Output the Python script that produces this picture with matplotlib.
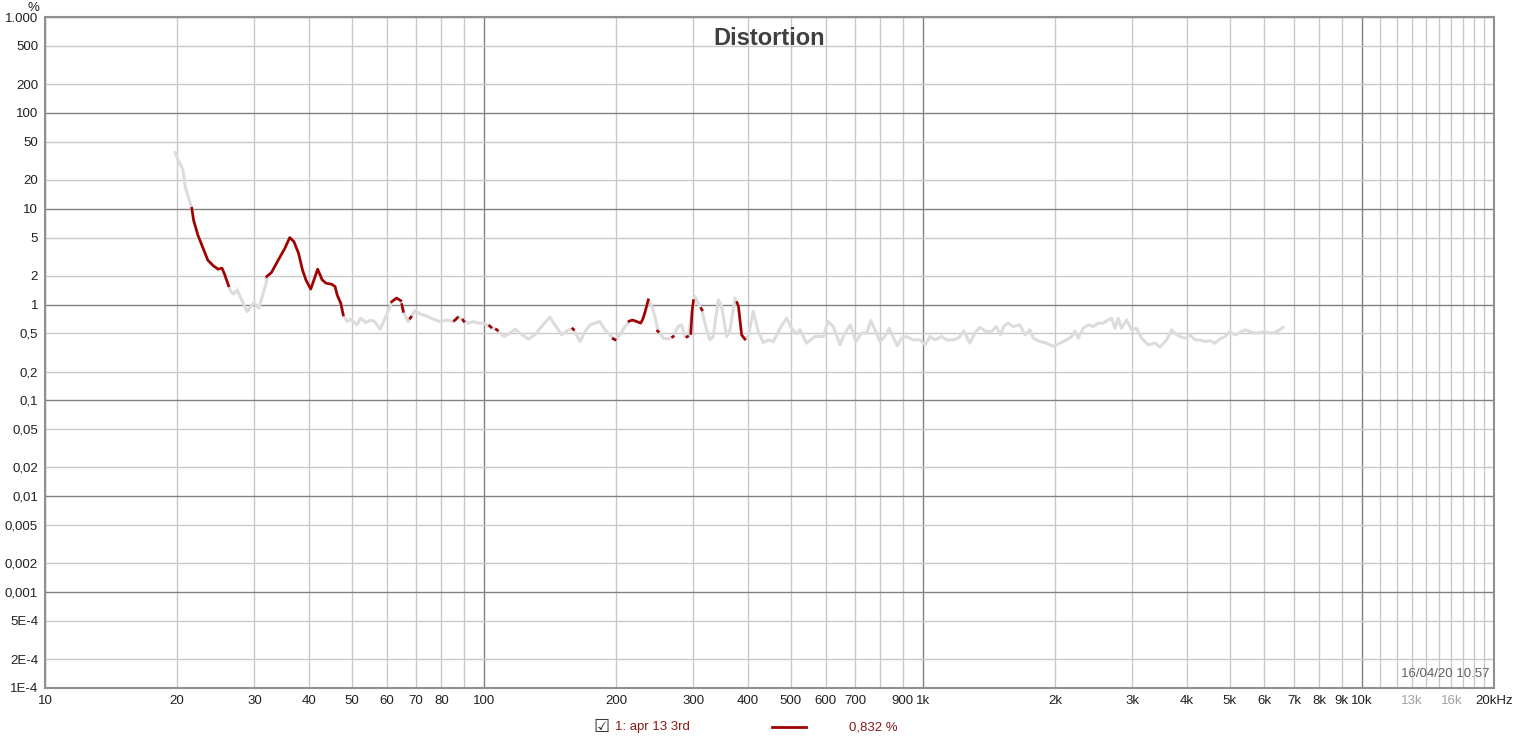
import numpy as np
import matplotlib
matplotlib.use("Agg")
import matplotlib.pyplot as plt

plt.rcParams['font.family'] = ['Liberation Sans', 'DejaVu Sans']

# full distortion curve (grey), Hz / %
freq = [19.8, 20.1, 20.6, 20.9, 21.6, 21.8, 22.3, 22.9, 23.5, 24.2, 24.8, 25.3, 25.6, 26.2,
        26.5, 26.9, 27.4, 28.0, 28.9, 29.9, 30.7, 31.9, 32.0, 32.8, 34.0, 35.2, 36.1, 36.9,
        37.8, 38.6, 39.3, 40.3, 41.0, 41.8, 42.8, 43.7, 45.0, 45.8, 46.3, 47.2, 47.8, 48.8,
        49.7, 51.3, 52.4, 53.8, 55.2, 56.4, 58.0, 60.0, 61.6, 63.2, 64.6, 65.5, 67.2, 68.4,
        69.7, 71.5, 74.1, 76.6, 79.4, 82.2, 85.1, 87.4, 89.7, 92.1, 94.6, 97.1, 99.6, 103.2,
        106.9, 111.1, 114.6, 117.7, 120.8, 126.2, 130.6, 135.3, 141.3, 145.1, 150.3, 155.6,
        159.8, 165.5, 169.9, 174.4, 179.1, 183.8, 188.6, 193.6, 198.8, 204, 209.5, 215.8,
        222.7, 227.5, 232.7, 236.8, 241, 245.2, 249.5, 256.2, 263, 269.8, 277.1, 281.9, 287.1,
        292.1, 297.2, 302.5, 307.6, 313.2, 321.5, 327.2, 332.9, 341.8, 347.9, 357.3, 363.4,
        373.1, 379.7, 386.4, 393, 400, 410.8, 421.7, 432.8, 444.5, 456.3, 472.6, 489.3, 502,
        515, 525, 543, 568, 593, 608, 625, 647, 664, 684, 703, 725, 744, 761, 778, 798, 819,
        838, 855, 874, 894, 918, 950, 985, 1011, 1038, 1065, 1103, 1133, 1173, 1204, 1240,
        1279, 1313, 1348, 1392, 1433, 1470, 1502, 1530, 1563, 1606, 1663, 1708, 1753, 1784,
        1848, 1913, 1981, 2051, 2125, 2182, 2220, 2259, 2318, 2380, 2444, 2507, 2575, 2642,
        2690, 2738, 2786, 2835, 2911, 2988, 3068, 3148, 3260, 3378, 3467, 3590, 3687, 3750,
        3850, 3954, 4057, 4166, 4276, 4389, 4507, 4625, 4748, 4875, 5005, 5137, 5272, 5414,
        5559, 5703, 5857, 6012, 6171, 6336, 6500, 6618]
dist = [38.5, 32, 25.8, 16.4, 10.1, 7.6, 5.3, 3.9, 2.9, 2.53, 2.34, 2.40, 2.12, 1.57,
        1.37, 1.29, 1.42, 1.14, 0.845, 1.05, 0.917, 1.67, 1.96, 2.16, 2.92, 3.87, 5.0, 4.54,
        3.44, 2.30, 1.81, 1.45, 1.81, 2.34, 1.81, 1.67, 1.63, 1.54, 1.26, 1.03, 0.78, 0.665,
        0.705, 0.614, 0.721, 0.649, 0.69, 0.665, 0.554, 0.78, 1.05, 1.17, 1.10, 0.85, 0.665, 0.75,
        0.866, 0.80, 0.76, 0.705, 0.665, 0.69, 0.665, 0.75, 0.68, 0.64, 0.665, 0.64, 0.64, 0.59,
        0.545, 0.464, 0.503, 0.554, 0.503, 0.436, 0.483, 0.59, 0.74, 0.614, 0.483, 0.545,
        0.554, 0.411, 0.523, 0.614, 0.64, 0.665, 0.545, 0.483, 0.428, 0.483, 0.59, 0.69,
        0.665, 0.64, 0.79, 1.12, 0.97, 0.75, 0.523, 0.447, 0.436, 0.464, 0.59, 0.614, 0.464,
        0.464, 0.79, 1.21, 1.03, 0.895, 0.545, 0.428, 0.464, 1.12, 0.96, 0.464, 0.545,
        1.17, 0.96, 0.483, 0.436, 0.464, 0.85, 0.523, 0.402, 0.428, 0.411, 0.566, 0.72, 0.566,
        0.495, 0.545, 0.396, 0.464, 0.464, 0.665, 0.59, 0.38, 0.503, 0.614, 0.411, 0.503, 0.503,
        0.68, 0.545, 0.411, 0.464, 0.566, 0.464, 0.371, 0.446, 0.464, 0.428, 0.428, 0.38, 0.464,
        0.428, 0.464, 0.428, 0.428, 0.446, 0.53, 0.396, 0.503, 0.58, 0.523, 0.523, 0.59, 0.483,
        0.6, 0.64, 0.59, 0.614, 0.483, 0.545, 0.446, 0.411, 0.396, 0.366, 0.396, 0.428, 0.464,
        0.53, 0.446, 0.566, 0.614, 0.59, 0.64, 0.64, 0.69, 0.72, 0.566, 0.72, 0.566, 0.69,
        0.545, 0.566, 0.446, 0.38, 0.396, 0.36, 0.428, 0.545, 0.503, 0.464, 0.446, 0.483,
        0.428, 0.428, 0.411, 0.42, 0.396, 0.436, 0.464, 0.523, 0.483, 0.51, 0.545, 0.523,
        0.503, 0.51, 0.523, 0.503, 0.51, 0.545, 0.58]

# red highlighted parts (nan = break)
nan = np.nan
red_freq = [21.6, 21.8, 22.3, 22.9, 23.5, 24.2, 24.8, 25.3, 25.6, 26.2, nan,
            32.0, 32.8, 34.0, 35.2, 36.1, 36.9, 37.8, 38.6, 39.3, 40.3, 41.0, 41.8, 42.8,
            43.7, 45.0, 45.8, 46.3, 47.2, 47.8, nan,
            61.6, 63.2, 64.6, nan, 65.0, 65.5, nan, 67.9, 68.2, nan,
            85.6, 86.3, 87.0, nan, 89.6, 90.0, nan, 103, 103.8, nan, 106.7, 107.3, nan,
            159.3, 160, nan, 197, 199, nan,
            214, 218, 223, 227.5, 230, 233, 236.8, nan, 248.6, 249.5, nan, 269, 269.8, nan,
            290, 291, nan, 296, 298, 300, nan, 312.5, 314, nan,
            377, 380, 386.4, 393]
red_dist = [10.1, 7.6, 5.3, 3.9, 2.9, 2.53, 2.34, 2.40, 2.12, 1.57, nan,
            1.96, 2.16, 2.92, 3.87, 5.0, 4.54, 3.44, 2.30, 1.81, 1.45, 1.81, 2.34, 1.81,
            1.67, 1.63, 1.54, 1.26, 1.03, 0.78, nan,
            1.07, 1.17, 1.10, nan, 1.0, 0.85, nan, 0.72, 0.74, nan,
            0.68, 0.70, 0.73, nan, 0.69, 0.67, nan, 0.60, 0.58, nan, 0.55, 0.54, nan,
            0.56, 0.55, nan, 0.44, 0.43, nan,
            0.67, 0.69, 0.665, 0.64, 0.70, 0.85, 1.12, nan, 0.53, 0.523, nan, 0.46, 0.464, nan,
            0.46, 0.464, nan, 0.50, 0.85, 1.1, nan, 0.91, 0.88, nan,
            1.05, 0.96, 0.483, 0.436]

x_major = [10, 100, 1000, 10000]
x_major_labels = ['10', '100', '1k', '10k']
x_minor = [20, 30, 40, 50, 60, 70, 80, 90,
           200, 300, 400, 500, 600, 700, 800, 900,
           2000, 3000, 4000, 5000, 6000, 7000, 8000, 9000,
           11000, 12000, 13000, 14000, 15000, 16000, 17000, 18000, 19000, 20000]
x_minor_labels = ['20', '30', '40', '50', '60', '70', '80', '',
                  '200', '300', '400', '500', '600', '700', '', '900',
                  '2k', '3k', '4k', '5k', '6k', '7k', '8k', '9k',
                  '', '', '13k', '', '', '16k', '', '', '', '20kHz']
y_major = [1e-4, 1e-3, 1e-2, 1e-1, 1, 10, 100, 1000]
y_major_labels = ['1E-4', '0,001', '0,01', '0,1', '1', '10', '100', '1.000']
y_minor = [2e-4, 5e-4, 2e-3, 5e-3, 2e-2, 5e-2, 0.2, 0.5, 2, 5, 20, 50, 200, 500]
y_minor_labels = ['2E-4', '5E-4', '0,002', '0,005', '0,02', '0,05', '0,2', '0,5',
                  '2', '5', '20', '50', '200', '500']

fig = plt.figure(figsize=(15.16, 7.41), dpi=100)
ax = fig.add_axes([45 / 1516, 1 - 688 / 741, 1449 / 1516, 671 / 741])

ax.plot(freq, dist, color='#dcdcdc', lw=2.2, zorder=3)
ax.plot(red_freq, red_dist, color='#a00000', lw=1.9, zorder=4)

ax.set_xscale('log')
ax.set_yscale('log')
ax.set_xlim(10, 20000)
ax.set_ylim(1e-4, 1000)

ax.set_xticks(x_major, labels=x_major_labels)
ax.set_xticks(x_minor, labels=x_minor_labels, minor=True)
ax.set_yticks(y_major, labels=y_major_labels)
ax.set_yticks(y_minor, labels=y_minor_labels, minor=True)
ax.tick_params(which='both', length=0, labelsize=9.5, colors='#202020', pad=5)
for lab in ax.get_xticklabels(minor=True):
    if lab.get_text() in ('13k', '16k'):
        lab.set_color('#a0a0a0')

ax.grid(which='major', color='#808080', lw=1.0, zorder=1)
ax.grid(which='minor', color='#c8c8c8', lw=1.0, zorder=1)
for s in ax.spines.values():
    s.set_color('#909090')
    s.set_linewidth(1.5)

ax.text(0.5, 0.985, 'Distortion', transform=ax.transAxes, ha='center', va='top',
        fontsize=17, fontweight='bold', color='#404040')
ax.text(0.997, 0.012, '16/04/20 10.57', transform=ax.transAxes, ha='right', va='bottom',
        fontsize=9.5, color='#606060')
fig.text(33 / 1516, 1 - 8 / 741, '%', ha='center', va='center', fontsize=9.5, color='#202020')

# legend row
fig.text(601 / 1516, 1 - 727 / 741, '\u2611', ha='center', va='center', fontsize=13,
         family=['DejaVu Sans'], color='#303030')
fig.text(615 / 1516, 1 - 727 / 741, '1: apr 13 3rd', ha='left', va='center', fontsize=9.5,
         color='#8b1a1a')
fig.add_artist(plt.Line2D([772 / 1516, 806 / 1516], [1 - 727 / 741, 1 - 727 / 741],
                          color='#a00000', lw=2))
fig.text(849 / 1516, 1 - 727 / 741, '0,832 %', ha='left', va='center', fontsize=9.5,
         color='#8b1a1a')

fig.savefig('out.png', dpi=100, facecolor='white')
